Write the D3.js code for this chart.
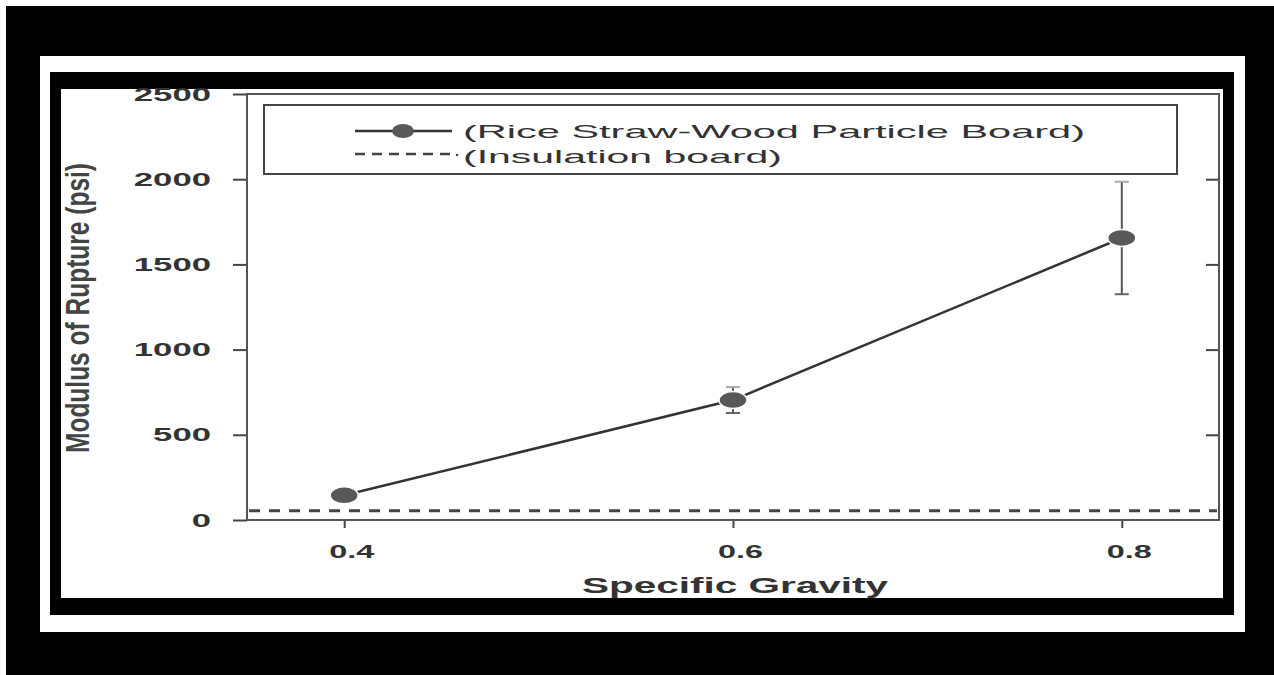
<!DOCTYPE html>
<html>
<head>
<meta charset="utf-8">
<script src="https://cdn.jsdelivr.net/npm/d3@7"></script>
<style>
  html, body { margin: 0; padding: 0; background: #fff; }
  svg { display: block; }
</style>
</head>
<body>
<svg width="1274" height="675"></svg>
<script>
// data
const specificGravity = [0.4, 0.6, 0.8];
const morMean = [145, 704, 1655];
const morError = [0, 76, 330];
const insulationMOR = 55;
const xTicks = [0.4, 0.6, 0.8];
const yTicks = [0, 500, 1000, 1500, 2000, 2500];
const seriesLabels = ["(Rice Straw-Wood Particle Board)", "(Insulation board)"];

const svg = d3.select("svg");

// --- FRAMES ---
svg.append("rect").attr("x", 6).attr("y", 6).attr("width", 1268).attr("height", 669).attr("fill", "#000");
svg.append("rect").attr("x", 40).attr("y", 56).attr("width", 1205).attr("height", 576).attr("fill", "#fff");
svg.append("rect").attr("x", 50).attr("y", 72).attr("width", 1184).attr("height", 543).attr("fill", "#000");
svg.append("rect").attr("x", 61).attr("y", 89).attr("width", 1162).attr("height", 509).attr("fill", "#fff");

// --- SCALES ---
const plotLeft = 247, plotRight = 1219, plotTop = 94, plotBottom = 520;
const x = d3.scaleLinear().domain([0.35, 0.85]).range([plotLeft, plotRight]);
const y = d3.scaleLinear().domain([0, 2500]).range([plotBottom, plotTop]);

const digitW = 19.3;
const g = svg.append("g");

// y axis (left, outward ticks)
const yAxis = g.append("g")
    .attr("transform", `translate(${plotLeft},0)`)
    .call(d3.axisLeft(y).tickValues(yTicks).tickSize(14).tickPadding(22).tickFormat(d3.format("d")));
yAxis.select(".domain").remove();
yAxis.selectAll("line").attr("stroke", "#444").attr("stroke-width", 2);
yAxis.selectAll("text")
    .attr("font-family", "Liberation Sans, Arial, sans-serif")
    .attr("font-weight", "bold")
    .attr("font-size", 19)
    .attr("fill", "#333")
    .attr("textLength", d => String(d).length * digitW)
    .attr("lengthAdjust", "spacingAndGlyphs");

// right side inward ticks
const yRight = g.append("g")
    .attr("transform", `translate(${plotRight},0)`)
    .call(d3.axisLeft(y).tickValues(yTicks.slice(1, -1)).tickSize(13).tickFormat(""));
yRight.select(".domain").remove();
yRight.selectAll("line").attr("stroke", "#444").attr("stroke-width", 2);

// x axis (bottom)
const xAxis = g.append("g")
    .attr("transform", `translate(0,${plotBottom})`)
    .call(d3.axisBottom(x).tickValues(xTicks).tickSize(8).tickPadding(17).tickFormat(d3.format(".1f")));
xAxis.select(".domain").remove();
xAxis.selectAll("line").attr("stroke", "#444").attr("stroke-width", 2);
xAxis.selectAll("text")
    .attr("dx", 7)
    .attr("font-family", "Liberation Sans, Arial, sans-serif")
    .attr("font-weight", "bold")
    .attr("font-size", 19)
    .attr("fill", "#333")
    .attr("textLength", 45)
    .attr("lengthAdjust", "spacingAndGlyphs");

// plot box
g.append("rect")
    .attr("x", plotLeft).attr("y", plotTop)
    .attr("width", plotRight - plotLeft).attr("height", plotBottom - plotTop)
    .attr("fill", "none").attr("stroke", "#555").attr("stroke-width", 2);

// --- AXIS TITLES ---
svg.append("text")
    .attr("transform", `translate(89,${(163 + 453) / 2}) rotate(-90)`)
    .attr("text-anchor", "middle")
    .attr("font-family", "Liberation Sans, Arial, sans-serif")
    .attr("font-weight", "bold")
    .attr("font-size", 33)
    .attr("fill", "#444")
    .attr("textLength", 290)
    .attr("lengthAdjust", "spacingAndGlyphs")
    .text("Modulus of Rupture (psi)");

svg.append("text")
    .attr("x", 735).attr("y", 593)
    .attr("text-anchor", "middle")
    .attr("font-family", "Liberation Sans, Arial, sans-serif")
    .attr("font-weight", "bold")
    .attr("font-size", 22)
    .attr("fill", "#333")
    .attr("textLength", 306)
    .attr("lengthAdjust", "spacingAndGlyphs")
    .text("Specific Gravity");

// --- INSULATION BOARD (dashed) ---
g.append("line")
    .attr("x1", plotLeft + 2).attr("x2", plotRight - 2)
    .attr("y1", y(insulationMOR)).attr("y2", y(insulationMOR))
    .attr("stroke", "#444").attr("stroke-width", 3)
    .attr("stroke-dasharray", "11,9");

// --- PARTICLE BOARD SERIES ---
const points = specificGravity.map((sg, i) => ({ sg, mean: morMean[i], err: morError[i] }));

g.append("path")
    .datum(points)
    .attr("fill", "none")
    .attr("stroke", "#333")
    .attr("stroke-width", 2.5)
    .attr("d", d3.line().x(d => x(d.sg)).y(d => y(d.mean)));

const bars = g.selectAll(".err").data(points.filter(d => d.err > 0)).enter().append("g");
bars.append("line")
    .attr("x1", d => x(d.sg)).attr("x2", d => x(d.sg))
    .attr("y1", d => y(d.mean - d.err)).attr("y2", d => y(d.mean + d.err))
    .attr("stroke", "#555").attr("stroke-width", 2);
[-1, 1].forEach(s => {
  bars.append("line")
      .attr("x1", d => x(d.sg) - 7).attr("x2", d => x(d.sg) + 7)
      .attr("y1", d => y(d.mean + s * d.err)).attr("y2", d => y(d.mean + s * d.err))
      .attr("stroke", s > 0 ? "#aaa" : "#666").attr("stroke-width", 2);
});

g.selectAll(".pt").data(points).enter().append("ellipse")
    .attr("cx", d => x(d.sg)).attr("cy", d => y(d.mean))
    .attr("rx", 14).attr("ry", 8.5)
    .attr("fill", "#585858")
    .attr("stroke", "#fff").attr("stroke-width", 1.5);

// --- LEGEND ---
const legend = svg.append("g");
legend.append("rect")
    .attr("x", 264).attr("y", 105).attr("width", 913).attr("height", 69)
    .attr("fill", "#fff").attr("stroke", "#444").attr("stroke-width", 2);

legend.append("line")
    .attr("x1", 355).attr("x2", 452).attr("y1", 131).attr("y2", 131)
    .attr("stroke", "#333").attr("stroke-width", 2.5);
legend.append("ellipse")
    .attr("cx", 403).attr("cy", 131).attr("rx", 11).attr("ry", 7)
    .attr("fill", "#585858");

legend.append("line")
    .attr("x1", 355).attr("x2", 452).attr("y1", 154).attr("y2", 154)
    .attr("stroke", "#444").attr("stroke-width", 2.5)
    .attr("stroke-dasharray", "10,7");
legend.append("circle").attr("cx", 457).attr("cy", 155).attr("r", 1.3).attr("fill", "#444");

const legendRows = [
  { label: seriesLabels[0], y: 138, len: 622 },
  { label: seriesLabels[1], y: 163, len: 319 }
];
legend.selectAll(".lt").data(legendRows).enter().append("text")
    .attr("x", 463).attr("y", d => d.y)
    .attr("font-family", "Liberation Sans, Arial, sans-serif")
    .attr("font-size", 19)
    .attr("fill", "#333")
    .attr("textLength", d => d.len)
    .attr("lengthAdjust", "spacingAndGlyphs")
    .text(d => d.label);
</script>
</body>
</html>
